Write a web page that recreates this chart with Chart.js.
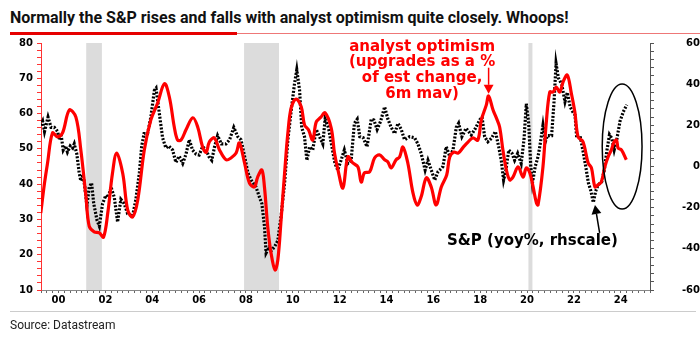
<!DOCTYPE html>
<html>
<head>
<meta charset="utf-8">
<script src="https://cdn.jsdelivr.net/npm/chart.js@4.4.1/dist/chart.umd.min.js"></script>
<style>
  html, body { margin: 0; padding: 0; background: #fff; }
  body { width: 700px; height: 339px; position: relative; overflow: hidden; }
  #chart { position: absolute; left: 0; top: 0; }
  .title { position: absolute; left: 10px; top: 8px; font: bold 16px "Liberation Sans Narrow", "Roboto", sans-serif; color: #111; white-space: nowrap; }
  .rule-thick { position: absolute; left: 10px; top: 32px; width: 227px; height: 3px; background: #e60000; }
  .rule-thin { position: absolute; left: 237px; top: 33px; width: 463px; height: 1px; background: #ee7777; }
  .rule-grey { position: absolute; left: 10px; top: 311px; width: 686px; height: 1px; background: #cccccc; }
  .source { position: absolute; left: 10px; top: 318px; font: 12px "Liberation Sans Narrow", "Roboto", sans-serif; color: #222; }
</style>
</head>
<body>
<div class="title">Normally the S&amp;P rises and falls with analyst optimism quite closely. Whoops!</div>
<div class="rule-thick"></div>
<div class="rule-thin"></div>
<canvas id="chart" width="700" height="339"></canvas>
<div class="rule-grey"></div>
<div class="source">Source: Datastream</div>
<script>
// analyst optimism (lhs), 6m mav
const optYears = [1999.24, 1999.4, 1999.53, 1999.74, 1999.96, 2000.17, 2000.46, 2000.74, 2000.95, 2001.17,
  2001.31, 2001.52, 2001.74, 2001.92, 2002.1, 2002.3, 2002.48, 2002.74, 2002.95, 2003.16,
  2003.38, 2003.66, 2003.94, 2004.23, 2004.52, 2004.73, 2004.94, 2005.08, 2005.23, 2005.44,
  2005.73, 2005.94, 2006.15, 2006.3, 2006.44, 2006.65, 2006.87, 2007.15, 2007.36, 2007.58,
  2007.72, 2007.94, 2008.15, 2008.36, 2008.5, 2008.68, 2008.79, 2008.93, 2009.07, 2009.24,
  2009.36, 2009.5, 2009.65, 2009.79, 2009.93, 2010.14, 2010.36, 2010.5, 2010.67, 2010.85,
  2011.0, 2011.2, 2011.38, 2011.64, 2011.78, 2011.93, 2012.14, 2012.35, 2012.56, 2012.78,
  2012.92, 2013.06, 2013.28, 2013.49, 2013.7, 2013.92, 2014.06, 2014.2, 2014.41, 2014.56,
  2014.7, 2014.91, 2015.13, 2015.31, 2015.48, 2015.7, 2015.91, 2016.12, 2016.34, 2016.57,
  2016.7, 2016.88, 2017.06, 2017.28, 2017.49, 2017.69, 2017.9, 2018.05, 2018.26, 2018.36,
  2018.55, 2018.69, 2018.83, 2018.97, 2019.12, 2019.26, 2019.4, 2019.62, 2019.83, 2019.97,
  2020.12, 2020.26, 2020.4, 2020.47, 2020.68, 2020.82, 2020.97, 2021.11, 2021.25, 2021.4,
  2021.54, 2021.72, 2021.89, 2022.04, 2022.18, 2022.39, 2022.61, 2022.75, 2022.9, 2023.03,
  2023.17, 2023.32, 2023.46, 2023.6, 2023.72, 2023.82, 2023.89, 2024.03, 2024.24];
const optValues = [31.8, 40.3, 46, 54.5, 53.4, 54.5, 61, 59, 49.7, 36.4,
  28, 26.5, 26.2, 25, 31.8, 43, 48.8, 43, 32.7, 30.7,
  35.5, 49.7, 58.2, 63, 68.5, 64.7, 56.2, 52.5, 52.5, 55.4,
  58.8, 56.2, 50.5, 49, 52, 53.1, 49.7, 46.9, 47.4, 48.8,
  51.7, 46, 40.3, 39.2, 42, 44, 39.2, 27.9, 20.5, 15.7,
  18.5, 29.9, 43.2, 54.5, 61.6, 64.1, 61.9, 56.8, 55.4, 52.5,
  57.6, 59, 60.2, 55.9, 48.8, 44, 38.9, 47.7, 46, 44.9,
  40.6, 43.2, 43.5, 47.4, 48.3, 46.9, 46.3, 44.6, 46.9, 47.7,
  50.5, 46, 37.5, 34.1, 36.4, 41.8, 39.2, 34.1, 39.2, 42.6,
  47.7, 49.1, 48.8, 50.5, 52, 53.1, 52.5, 58.2, 62.4, 65,
  61, 58.8, 56.2, 49.7, 44, 41.2, 42, 44.9, 42, 44.6,
  43.2, 39.2, 34.7, 34.1, 44.9, 57.3, 66.1, 66.1, 67.5, 66.1,
  69, 70.9, 65.8, 60.5, 53.4, 52, 46, 44.6, 39.2, 39.8,
  40.6, 44.9, 47.7, 49.7, 52, 52.5, 50.2, 49.7, 46.9];

// S&P 500, yoy % (rhs)
const spxYears = [1999.24, 1999.32, 1999.4, 1999.55, 1999.68, 1999.82, 1999.96, 2000.03, 2000.1, 2000.2,
  2000.3, 2000.38, 2000.5, 2000.6, 2000.67, 2000.78, 2000.88, 2000.95, 2001.05, 2001.12,
  2001.21, 2001.31, 2001.41, 2001.5, 2001.64, 2001.74, 2001.88, 2002.02, 2002.12, 2002.24,
  2002.38, 2002.52, 2002.66, 2002.8, 2002.95, 2003.16, 2003.3, 2003.45, 2003.55, 2003.65,
  2003.8, 2003.94, 2004.09, 2004.16, 2004.3, 2004.44, 2004.58, 2004.7, 2004.87, 2005.01,
  2005.15, 2005.3, 2005.44, 2005.58, 2005.72, 2005.87, 2006.0, 2006.15, 2006.3, 2006.42,
  2006.54, 2006.66, 2006.79, 2006.95, 2007.15, 2007.3, 2007.48, 2007.65, 2007.79, 2007.94,
  2008.08, 2008.22, 2008.43, 2008.58, 2008.68, 2008.79, 2008.86, 2009.0, 2009.07, 2009.22,
  2009.36, 2009.5, 2009.65, 2009.79, 2009.93, 2010.07, 2010.17, 2010.29, 2010.38, 2010.5,
  2010.6, 2010.72, 2010.85, 2011.0, 2011.14, 2011.28, 2011.38, 2011.52, 2011.67, 2011.8,
  2011.92, 2012.06, 2012.2, 2012.35, 2012.49, 2012.63, 2012.75, 2012.86, 2013.0, 2013.17,
  2013.35, 2013.46, 2013.6, 2013.75, 2013.92, 2014.06, 2014.2, 2014.35, 2014.49, 2014.63,
  2014.77, 2014.99, 2015.2, 2015.34, 2015.48, 2015.65, 2015.77, 2015.91, 2016.06, 2016.2,
  2016.34, 2016.41, 2016.55, 2016.7, 2016.84, 2016.98, 2017.08, 2017.22, 2017.4, 2017.62,
  2017.8, 2017.98, 2018.08, 2018.19, 2018.33, 2018.48, 2018.65, 2018.79, 2018.9, 2019.0,
  2019.1, 2019.22, 2019.36, 2019.47, 2019.6, 2019.75, 2019.87, 2019.97, 2020.07, 2020.16,
  2020.23, 2020.35, 2020.47, 2020.55, 2020.68, 2020.78, 2020.87, 2021.05, 2021.15, 2021.24,
  2021.34, 2021.48, 2021.62, 2021.72, 2021.84, 2021.95, 2022.05, 2022.12, 2022.26, 2022.4,
  2022.52, 2022.62, 2022.73, 2022.83, 2022.93, 2023.03, 2023.19, 2023.3, 2023.4, 2023.52,
  2023.62, 2023.72, 2023.83, 2023.97, 2024.11, 2024.26];
const spxValues = [20, 22, 17, 24, 19, 19, 17, 13, 16, 8,
  10, 7, 10, 9, 11, 6, -3, -7, -4, -10,
  -19, -10, -8, -18, -26, -29, -18, -14, -15, -10,
  -15, -27, -16, -18, -23, -24, -16, -3, 10, 16,
  16, 24, 37, 38, 26, 14, 9, 10, 8, 2,
  5, 1.5, 6, 13, 8, 6, 5.6, 9.6, 8, 4.8,
  3, 9.6, 15, 11, 11, 13, 19, 14.5, 13, 5,
  -3, -6.6, -10, -15, -18, -29, -42, -39, -41, -39,
  -36, -24, -8, 13, 27, 40, 47, 37, 19, 14.5,
  3, 9.6, 8, 18, 14.5, 11, 23, 19, 9.6, 1.5,
  -1.7, 3, 8, 1.5, 3, 21, 23, 14.5, 14, 9.6,
  23, 22.6, 18, 22, 29, 23, 19, 16, 21, 18,
  13, 14.5, 14, 11, 6.4, -1.7, 3, -1.7, -6.6, -2.5,
  -1, 0, 9.6, 5, 8, 19, 21, 14.5, 18.6, 15.3,
  18.6, 22.6, 24, 14.5, 12, 13.7, 17, 9.6, 3, -6.6,
  -1.7, 8, 6.4, 3, 6.4, 1.5, 13, 30.5, 21, 0,
  -8, 0, 4.8, 10, 20, 12, 15, 15, 31, 50,
  43, 40, 31.5, 36, 29, 26.6, 25, 14, 15, 7,
  -1, -8, -12, -17.5, -12, -9, -7.4, -1.7, 7, 15.5,
  13.7, 8, 13, 22, 26.6, 30];

// US recessions (shaded)
const recessions = [[2001.18, 2001.85], [2007.92, 2009.41], [2020.06, 2020.23]];

const optLabel = ['analyst optimism', '(upgrades as a %', 'of est change,', '6m mav)'];
const spxLabel = 'S&P (yoy%, rhscale)';

function toPoints(xs, ys) {
    return xs.map((x, i) => ({ x: x, y: ys[i] }));
}

const tickFont = { family: 'DejaVu Sans', weight: 'bold', size: 10 };

const recessionPlugin = {
    id: 'recessions',
    beforeDatasetsDraw(chart) {
        const { ctx, chartArea, scales } = chart;
        ctx.save();
        ctx.fillStyle = '#dcdcdc';
        recessions.forEach(r => {
            const x0 = scales.x.getPixelForValue(r[0]);
            const x1 = scales.x.getPixelForValue(r[1]);
            ctx.fillRect(x0, chartArea.top, x1 - x0, chartArea.bottom - chartArea.top);
        });
        ctx.restore();
    }
};

function arrow(ctx, x0, y0, x1, y1, color, head) {
    const a = Math.atan2(y1 - y0, x1 - x0);
    ctx.strokeStyle = color;
    ctx.fillStyle = color;
    ctx.lineWidth = 1.5;
    ctx.beginPath();
    ctx.moveTo(x0, y0);
    ctx.lineTo(x1 - Math.cos(a) * head, y1 - Math.sin(a) * head);
    ctx.stroke();
    ctx.beginPath();
    ctx.moveTo(x1, y1);
    ctx.lineTo(x1 - Math.cos(a) * head - Math.sin(a) * head * 0.55, y1 - Math.sin(a) * head + Math.cos(a) * head * 0.55);
    ctx.lineTo(x1 - Math.cos(a) * head + Math.sin(a) * head * 0.55, y1 - Math.sin(a) * head - Math.cos(a) * head * 0.55);
    ctx.closePath();
    ctx.fill();
}

const notesPlugin = {
    id: 'notes',
    afterDatasetsDraw(chart) {
        const { ctx, scales } = chart;
        const x = scales.x, yl = scales.y, yr = scales.y2;
        ctx.save();
        ctx.font = 'bold 15px "DejaVu Sans"';
        ctx.textAlign = 'center';
        ctx.textBaseline = 'middle';

        // red label + arrow to the 2018 peak
        ctx.fillStyle = '#ff0000';
        const cx = x.getPixelForValue(2015.52);
        const top = yl.getPixelForValue(78.9);
        optLabel.forEach((t, i) => ctx.fillText(t, cx, top + i * 15.7));
        const ax = x.getPixelForValue(2018.36);
        arrow(ctx, ax, yl.getPixelForValue(73), ax, yl.getPixelForValue(65.6), '#ff0000', 9);

        // black label + arrow to the 2022 trough
        ctx.fillStyle = '#000';
        ctx.fillText(spxLabel, x.getPixelForValue(2020.23), yr.getPixelForValue(-36.2));
        arrow(ctx, x.getPixelForValue(2023.1), yr.getPixelForValue(-32.3),
              x.getPixelForValue(2022.9), yr.getPixelForValue(-18.7), '#000', 9);

        // ellipse round the latest readings
        const ex = x.getPixelForValue(2024.06), ey = yr.getPixelForValue(9.7);
        const rx = x.getPixelForValue(2024.06 + 0.85) - ex;
        const ry = ey - yr.getPixelForValue(9.7 + 30.4);
        ctx.strokeStyle = '#000';
        ctx.lineWidth = 1.5;
        ctx.beginPath();
        ctx.ellipse(ex, ey, rx, ry, 0, 0, Math.PI * 2);
        ctx.stroke();
        ctx.restore();
    }
};

const ctx = document.getElementById('chart').getContext('2d');
const chart = new Chart(ctx, {
    type: 'line',
    data: {
        datasets: [{
            label: 'analyst optimism',
            data: toPoints(optYears, optValues),
            yAxisID: 'y',
            borderColor: '#ff0000',
            borderWidth: 3.2,
            pointRadius: 0,
            tension: 0.35
        }, {
            label: 'S&P',
            data: toPoints(spxYears, spxValues),
            yAxisID: 'y2',
            borderColor: '#000',
            borderWidth: 3.2,
            borderDash: [2, 1.6],
            pointRadius: 0,
            tension: 0
        }]
    },
    options: {
        responsive: false,
        animation: false,
        devicePixelRatio: 1,
        layout: { padding: { top: 43, left: 0, right: 0, bottom: 0 } },
        plugins: { legend: { display: false }, tooltip: { enabled: false } },
        scales: {
            x: {
                type: 'linear',
                min: 1999.25,
                max: 2025.25,
                afterFit: s => { s.height = 49; },
                grid: { drawOnChartArea: false, color: '#666', tickLength: 3 },
                border: { color: '#888', width: 1 },
                ticks: {
                    stepSize: 0.25,
                    autoSkip: false,
                    maxRotation: 0,
                    padding: 1,
                    color: '#000',
                    font: tickFont,
                    callback: v => {
                        const r = Math.round(v);
                        if (Math.abs(v - r) > 1e-6 || r % 2 !== 0) return '';
                        return String(r % 100).padStart(2, '0');
                    }
                }
            },
            y: {
                position: 'left',
                min: 10,
                max: 80,
                afterFit: s => { s.width = 41; },
                grid: { drawOnChartArea: false, color: '#ff3333', tickLength: 4 },
                border: { color: '#ff3333', width: 1 },
                ticks: {
                    stepSize: 2,
                    autoSkip: false,
                    padding: 4,
                    color: '#000',
                    font: tickFont,
                    callback: v => (v % 10 === 0 ? String(v) : '')
                }
            },
            y2: {
                position: 'right',
                min: -60,
                max: 60,
                afterFit: s => { s.width = 50; },
                grid: { drawOnChartArea: false, color: '#555', tickLength: 4 },
                border: { color: '#555', width: 1 },
                ticks: {
                    stepSize: 4,
                    autoSkip: false,
                    padding: 2,
                    crossAlign: 'far',
                    color: '#000',
                    font: tickFont,
                    callback: v => (v % 20 === 0 ? String(v) : '')
                }
            }
        }
    },
    plugins: [recessionPlugin, notesPlugin]
});
</script>
</body>
</html>
